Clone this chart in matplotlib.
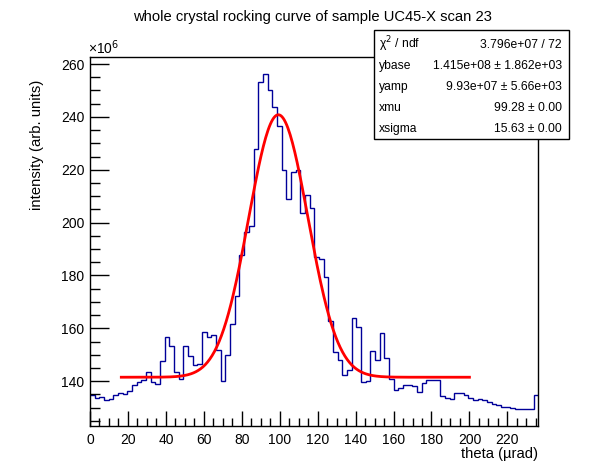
import numpy as np
import matplotlib
matplotlib.use("Agg")
import matplotlib.pyplot as plt
from matplotlib.ticker import MultipleLocator

plt.rcParams['font.family'] = ['Liberation Sans', 'DejaVu Sans']

# histogram: 96 bins over 0 .. 236.4 urad, intensity in units of 1e6
x_min, x_max = 0.0, 236.4
counts = [
    134.9, 133.7, 133.9, 132.8, 133.4, 134.6, 135.7, 135.3, 136.2, 138.7,
    139.6, 140.6, 143.3, 139.6, 139.1, 147.6, 156.6, 153.3, 143.3, 141.0,
    153.3, 149.4, 146.0, 146.4, 158.6, 156.6, 157.5, 151.8, 140.0, 149.8,
    161.5, 172.3, 187.8, 196.4, 198.9, 227.9, 253.3, 256.3, 250.3, 243.9,
    236.7, 220.0, 209.0, 219.3, 220.0, 203.6, 210.4, 205.6, 186.9, 186.2,
    179.3, 162.8, 150.9, 148.0, 142.2, 144.4, 163.8, 160.6, 139.6, 140.0,
    151.4, 148.2, 158.1, 148.6, 141.0, 136.8, 137.6, 138.7, 138.7, 138.0,
    136.1, 139.5, 140.6, 140.4, 140.6, 134.3, 133.6, 133.2, 135.7, 135.7,
    134.6, 133.6, 132.8, 133.2, 132.8, 132.3, 131.2, 130.9, 130.1, 130.1,
    129.9, 129.4, 129.4, 129.4, 129.4, 134.7,
]

# gaussian fit parameters (from the stats box)
ybase = 141.5
yamp = 99.3
xmu = 99.28
xsigma = 15.63
fit_lo, fit_hi = 16.5, 200.0

stat_names = ["\u03c7$^{2}$ / ndf", "ybase", "yamp", "xmu", "xsigma"]
stat_values = ["3.796e+07 / 72", "1.415e+08 \u00b1 1.862e+03",
               "9.93e+07 \u00b1 5.66e+03", "99.28 \u00b1 0.00",
               "15.63 \u00b1 0.00"]


def main():
    edges = np.linspace(x_min, x_max, len(counts) + 1)
    vals = np.array(counts)

    fig = plt.figure(figsize=(5.98, 4.74), dpi=100)
    ax = fig.add_axes([0.1505, 0.1013, 0.75, 0.7784])

    ax.stairs(vals, edges, baseline=None, color='#000099', linewidth=1.0)

    xf = np.linspace(fit_lo, fit_hi, 300)
    yf = ybase + yamp * np.exp(-0.5 * ((xf - xmu) / xsigma) ** 2)
    ax.plot(xf, yf, color='red', linewidth=2)

    span = vals.max() - vals.min()
    ax.set_xlim(x_min, x_max)
    ax.set_ylim(vals.min() - 0.05 * span, vals.max() + 0.05 * span)

    # ROOT-like axes: ticks inside, left and bottom only
    ax.xaxis.set_major_locator(MultipleLocator(20))
    ax.xaxis.set_minor_locator(MultipleLocator(5))
    ax.yaxis.set_major_locator(MultipleLocator(20))
    ax.yaxis.set_minor_locator(MultipleLocator(5))
    ax.tick_params(which='both', direction='in', top=False, right=False,
                   labelsize=10, width=1)
    ax.tick_params(axis='x', which='major', length=11, pad=5)
    ax.tick_params(axis='x', which='minor', length=5.5)
    ax.tick_params(axis='y', which='major', length=14, pad=4)
    ax.tick_params(axis='y', which='minor', length=7)
    for s in ax.spines.values():
        s.set_linewidth(1)

    ax.set_xlabel("theta (\u00b5rad)", fontsize=10.6, loc='right', labelpad=0)
    fig.text(37 / 598, 1 - 80 / 474, "intensity (arb. units)", fontsize=10.7,
             rotation=90, ha='center', va='top')
    ax.text(-0.004, 1.0, "\u00d710$^{6}$", transform=ax.transAxes,
            fontsize=10, ha='left', va='bottom')

    fig.text(0.522, 0.965, "whole crystal rocking curve of sample UC45-X scan 23",
             fontsize=10.6, ha='center', va='center')

    # stats box
    bx0, by0, bx1, by1 = 374 / 598, 1 - 139 / 474, 569 / 598, 1 - 30 / 474
    box = plt.Rectangle((bx0, by0), bx1 - bx0, by1 - by0, transform=fig.transFigure,
                        facecolor='white', edgecolor='black', linewidth=1, zorder=5)
    fig.add_artist(box)
    row_y = [44.5, 65.7, 86.7, 108.3, 129.3]
    for name, val, py in zip(stat_names, stat_values, row_y):
        fig.text(379 / 598, 1 - py / 474, name, fontsize=8.7, ha='left', va='center', zorder=6)
        fig.text(562 / 598, 1 - py / 474, val, fontsize=8.7, ha='right', va='center', zorder=6)

    fig.savefig("out.png", dpi=100)


if __name__ == "__main__":
    main()
